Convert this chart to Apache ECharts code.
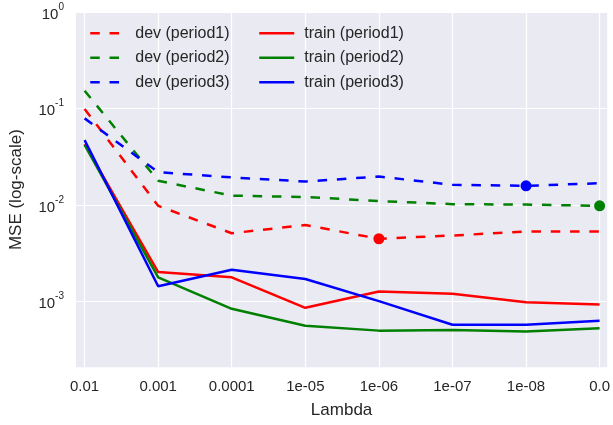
<!DOCTYPE html>
<html>
<head>
<meta charset="utf-8">
<script src="https://cdn.jsdelivr.net/npm/echarts@6/dist/echarts.min.js"></script>
<style>html,body{margin:0;padding:0;background:#fff;}#c{width:613px;height:425px;}</style>
</head>
<body>
<div id="c"></div>
<script>
const categories = ['0.01', '0.001', '0.0001', '1e-05', '1e-06', '1e-07', '1e-08', '0.0'];
const devPeriod1 = [0.099, 0.0098, 0.0051, 0.0062, 0.00447, 0.00483, 0.0053, 0.0053];
const devPeriod2 = [0.153, 0.0178, 0.0125, 0.0121, 0.011, 0.0102, 0.0101, 0.0098];
const devPeriod3 = [0.079, 0.0219, 0.0193, 0.0175, 0.0197, 0.0162, 0.0158, 0.0168];
const trainPeriod1 = [0.0427, 0.00202, 0.00178, 0.00086, 0.00127, 0.0012, 0.00098, 0.00093];
const trainPeriod2 = [0.042, 0.00178, 0.00084, 0.00056, 0.000499, 0.000507, 0.00049, 0.000527];
const trainPeriod3 = [0.047, 0.00144, 0.00213, 0.00171, 0.00101, 0.000575, 0.000575, 0.00063];
const yTickExponents = [-3, -2, -1, 0];

const chart = echarts.init(document.getElementById('c'), null, {renderer: 'canvas'});
const FONT = 'Liberation Sans, Arial, sans-serif';
const TXT = '#262626';
const RED = '#ff0000', GREEN = '#008000', BLUE = '#0000ff';

function argmin(arr) { let k = 0; arr.forEach((v, i) => { if (v < arr[k]) k = i; }); return k; }
function toXY(arr) { return arr.map((v, i) => [i, v]); }

function mk(name, arr, color, dashed) {
  return {
    name: name, type: 'line', data: toXY(arr),
    symbol: 'none', showSymbol: false,
    itemStyle: {color: color},
    lineStyle: {color: color, width: 2.5, type: dashed ? [9.5, 9.8] : 'solid'},
    emphasis: {disabled: true}, animation: false, silent: true, z: 2
  };
}
function best(arr, color) {
  const k = argmin(arr);
  return {
    type: 'scatter', data: [[k, arr[k]]], symbol: 'circle', symbolSize: 11,
    itemStyle: {color: color, opacity: 1}, silent: true, animation: false, z: 3
  };
}

const legendCommon = {
  orient: 'vertical', itemWidth: 35, itemHeight: 14, itemGap: 8.5, padding: 0,
  itemStyle: {opacity: 0},
  lineStyle: {width: 2.5},
  textStyle: {fontFamily: FONT, fontSize: 16, color: TXT, padding: [0, 0, 0, 5]},
  selectedMode: false, top: 25.2
};

chart.setOption({
  backgroundColor: '#ffffff',
  animation: false,
  grid: {left: 74, right: 4, top: 12, bottom: 57.7, show: true, backgroundColor: '#eaeaf2', borderWidth: 0},
  legend: [
    Object.assign({}, legendCommon, {left: 89, data: ['dev (period1)', 'dev (period2)', 'dev (period3)']}),
    Object.assign({}, legendCommon, {left: 258, data: ['train (period1)', 'train (period2)', 'train (period3)']})
  ],
  xAxis: {
    type: 'value', min: -0.117, max: 7.103,
    name: 'Lambda', nameLocation: 'middle', nameGap: 35,
    nameTextStyle: {fontFamily: FONT, fontSize: 17, color: TXT},
    axisLine: {show: false},
    axisTick: {show: false, customValues: categories.map((c, i) => i)},
    axisLabel: {
      customValues: categories.map((c, i) => i),
      formatter: v => categories[Math.round(v)] || '',
      fontFamily: FONT, fontSize: 15, color: TXT, margin: 12
    },
    splitLine: {show: true, lineStyle: {color: '#ffffff', width: 1.2}}
  },
  yAxis: {
    type: 'log', logBase: 10, min: 2.08e-4, max: 1,
    name: 'MSE (log-scale)', nameLocation: 'middle', nameGap: 51, nameRotate: 90,
    nameTextStyle: {fontFamily: FONT, fontSize: 17, color: TXT},
    axisLine: {show: false},
    axisLabel: {
      customValues: yTickExponents.map(e => Math.pow(10, e)),
      margin: 12,
      formatter: v => {
        const e = Math.log10(v);
        const r = Math.round(e);
        if (Math.abs(e - r) > 1e-6) return '';
        return '{b|10}{s|' + r + '}';
      },
      rich: {
        b: {fontFamily: FONT, fontSize: 15, color: TXT, lineHeight: 20, verticalAlign: 'bottom'},
        s: {fontFamily: FONT, fontSize: 10, color: TXT, lineHeight: 20, verticalAlign: 'top'}
      }
    },
    axisTick: {show: false, customValues: yTickExponents.map(e => Math.pow(10, e))},
    splitLine: {show: true, lineStyle: {color: '#ffffff', width: 1.2}}
  },
  series: [
    mk('dev (period1)', devPeriod1, RED, true),
    mk('dev (period2)', devPeriod2, GREEN, true),
    mk('dev (period3)', devPeriod3, BLUE, true),
    mk('train (period1)', trainPeriod1, RED, false),
    mk('train (period2)', trainPeriod2, GREEN, false),
    mk('train (period3)', trainPeriod3, BLUE, false),
    best(devPeriod1, RED),
    best(devPeriod2, GREEN),
    best(devPeriod3, BLUE)
  ]
});
</script>
</body>
</html>
